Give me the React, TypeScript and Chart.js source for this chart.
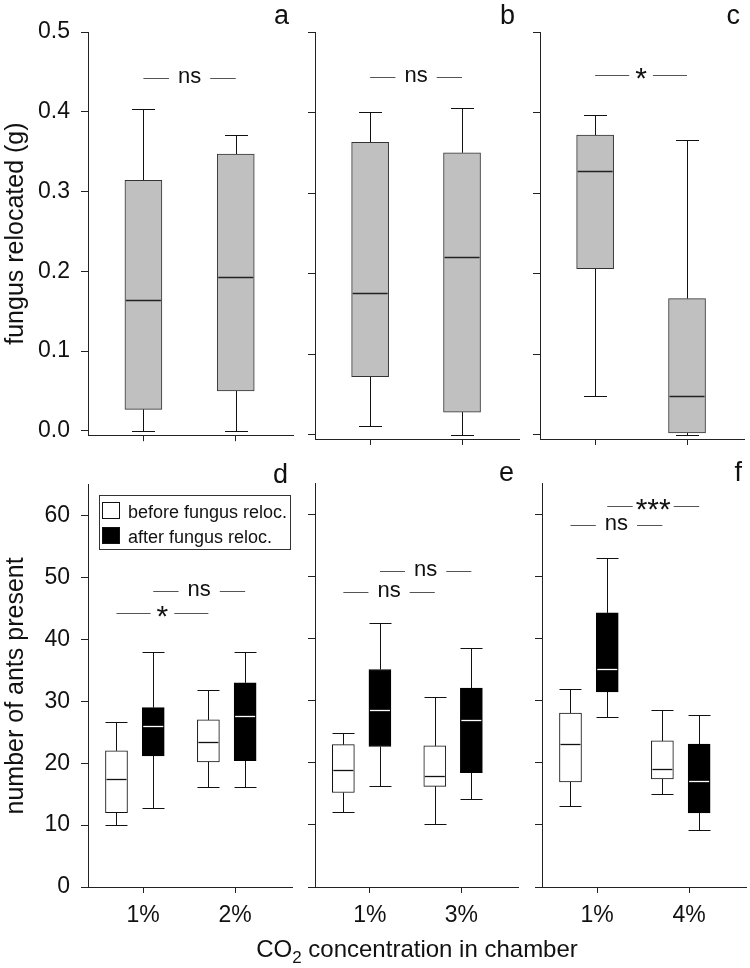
import React, { useEffect, useRef } from 'react';
import { Chart, registerables } from 'chart.js';

Chart.register(...registerables);

const FONT = "'Liberation Sans', Arial, Helvetica, sans-serif";

// ---------------- data ----------------
const catsA = ['1%', '2%'];
const catsB = ['1%', '3%'];
const catsC = ['1%', '4%'];

// fungus relocated (g): [min, q1, median, q3, max] per CO2 level
const fungusA = [
  [0.0, 0.027, 0.164, 0.314, 0.403],
  [0.0, 0.05, 0.193, 0.347, 0.371],
];
const fungusB = [
  [0.011, 0.072, 0.176, 0.363, 0.401],
  [0.0, 0.028, 0.221, 0.35, 0.406],
];
const fungusC = [
  [0.048, 0.206, 0.328, 0.372, 0.397],
  [0.0, 0.002, 0.048, 0.169, 0.366],
];

// number of ants present: [min, q1, median, q3, max]
const antsBeforeD = [
  [10.1, 12.0, 17.5, 22.0, 26.7],
  [16.1, 20.2, 23.4, 27.0, 31.9],
];
const antsAfterD = [
  [12.7, 21.2, 26.0, 29.0, 38.0],
  [16.1, 20.4, 27.7, 33.0, 38.0],
];
const antsBeforeE = [
  [12.1, 15.2, 18.9, 22.9, 24.8],
  [10.2, 16.2, 17.9, 22.7, 30.6],
];
const antsAfterE = [
  [16.3, 22.6, 28.4, 35.0, 42.4],
  [14.1, 18.4, 26.8, 32.0, 38.5],
];
const antsBeforeF = [
  [13.1, 16.9, 23.0, 28.0, 31.8],
  [15.0, 17.4, 19.0, 23.5, 28.4],
];
const antsAfterF = [
  [27.3, 31.4, 35.0, 44.1, 53.0],
  [9.2, 11.9, 17.0, 23.0, 27.7],
];

const fungusTicks = [0, 0.1, 0.2, 0.3, 0.4, 0.5];
const fungusTickLabels = ['0.0', '0.1', '0.2', '0.3', '0.4', '0.5'];
const antsTicks = [0, 10, 20, 30, 40, 50, 60];
const antsTickLabels = ['0', '10', '20', '30', '40', '50', '60'];

// significance brackets: series index joined across the two CO2 levels
const sigA = [{ series: 0, y: 0.442, label: 'ns' }];
const sigB = [{ series: 0, y: 0.444, label: 'ns' }];
const sigC = [{ series: 0, y: 0.447, label: '*' }];
const sigD = [
  { series: 1, y: 47.9, label: 'ns' },
  { series: 0, y: 44.3, label: '*' },
];
const sigE = [
  { series: 1, y: 50.9, label: 'ns' },
  { series: 0, y: 47.45, label: 'ns' },
];
const sigF = [
  { series: 1, y: 61.3, label: '***' },
  { series: 0, y: 58.2, label: 'ns' },
];

const legendLabels = ['before fungus reloc.', 'after fungus reloc.'];
const yTitleTop = 'fungus relocated (g)';
const yTitleBottom = 'number of ants present';

// ---------------- styles / layout ----------------
const GRAY = { fill: '#c0c0c0', border: '#333333', median: '#222222', offset: 0 };
const BEFORE = { fill: '#ffffff', border: '#111111', median: '#111111', offset: -0.29 };
const AFTER = { fill: '#000000', border: '#000000', median: '#ffffff', offset: 0.11 };

type Series = { data: number[][]; fill: string; border: string; median: string; offset: number };
type Panel = {
  letter: string;
  cats: string[];
  series: Series[];
  sig: { series: number; y: number; label: string }[];
  boxPx: number;
  capPx: number;
  yMin: number;
  yMax: number;
  ticks: number[];
  tickLabels: string[];
  showYLabels: boolean;
  showXLabels: boolean;
  yTitle?: string;
  legend: boolean;
  x: number;
  y: number;
  w: number;
  h: number;
  yWidth: number;
  padRight: number;
  padTop: number;
  xHeight: number;
  letterDy: number;
};

const topRow = { y: 0, h: 460, padTop: 32, xHeight: 21, yMin: -0.0054, yMax: 0.5, boxPx: 37, capPx: 23, letterDy: 8 };
const bottomRow = { y: 460, h: 508, padTop: 23, xHeight: 81, yMin: 0, yMax: 65, boxPx: 22, capPx: 22, letterDy: 2 };

const panels: Panel[] = [
  {
    ...topRow, letter: 'a', cats: catsA, series: [{ ...GRAY, data: fungusA }], sig: sigA,
    ticks: fungusTicks, tickLabels: fungusTickLabels, showYLabels: true, showXLabels: false,
    yTitle: yTitleTop, legend: false, x: 0, w: 300, yWidth: 88, padRight: 7,
  },
  {
    ...topRow, letter: 'b', cats: catsB, series: [{ ...GRAY, data: fungusB }], sig: sigB,
    ticks: fungusTicks, tickLabels: fungusTickLabels, showYLabels: false, showXLabels: false,
    legend: false, x: 300, w: 225, yWidth: 15, padRight: 6,
  },
  {
    ...topRow, letter: 'c', cats: catsC, series: [{ ...GRAY, data: fungusC }], sig: sigC,
    ticks: fungusTicks, tickLabels: fungusTickLabels, showYLabels: false, showXLabels: false,
    legend: false, x: 525, w: 225, yWidth: 15, padRight: 6,
  },
  {
    ...bottomRow, letter: 'd', cats: catsA,
    series: [{ ...BEFORE, data: antsBeforeD }, { ...AFTER, data: antsAfterD }], sig: sigD,
    ticks: antsTicks, tickLabels: antsTickLabels, showYLabels: true, showXLabels: true,
    yTitle: yTitleBottom, legend: true, x: 0, w: 300, yWidth: 88, padRight: 8,
  },
  {
    ...bottomRow, letter: 'e', cats: catsB,
    series: [{ ...BEFORE, data: antsBeforeE }, { ...AFTER, data: antsAfterE }], sig: sigE,
    ticks: antsTicks, tickLabels: antsTickLabels, showYLabels: false, showXLabels: true,
    legend: false, x: 300, w: 225, yWidth: 15, padRight: 7,
  },
  {
    ...bottomRow, letter: 'f', cats: catsC,
    series: [{ ...BEFORE, data: antsBeforeF }, { ...AFTER, data: antsAfterF }], sig: sigF,
    ticks: antsTicks, tickLabels: antsTickLabels, showYLabels: false, showXLabels: true,
    legend: false, x: 525, w: 225, yWidth: 17, padRight: 4,
  },
];

function makePlugin(p: Panel) {
  return {
    id: 'boxExtras' + p.letter,
    beforeDatasetsDraw(chart: any) {
      const { ctx } = chart;
      const xs = chart.scales.x;
      const ys = chart.scales.y;
      ctx.save();
      ctx.lineWidth = 1;
      ctx.strokeStyle = '#111';
      p.series.forEach((s) => {
        s.data.forEach((st, i) => {
          const x = Math.round(xs.getPixelForValue(i + s.offset)) + 0.5;
          const yLo = Math.round(ys.getPixelForValue(st[0])) + 0.5;
          const yQ1 = ys.getPixelForValue(st[1]);
          const yQ3 = ys.getPixelForValue(st[3]);
          const yHi = Math.round(ys.getPixelForValue(st[4])) + 0.5;
          const half = p.capPx / 2;
          ctx.beginPath();
          ctx.moveTo(x, yQ1);
          ctx.lineTo(x, yLo);
          ctx.moveTo(x, yQ3);
          ctx.lineTo(x, yHi);
          ctx.moveTo(x - half, yLo);
          ctx.lineTo(x + half, yLo);
          ctx.moveTo(x - half, yHi);
          ctx.lineTo(x + half, yHi);
          ctx.stroke();
        });
      });
      ctx.restore();
    },
    afterDatasetsDraw(chart: any) {
      const { ctx, chartArea } = chart;
      const xs = chart.scales.x;
      const ys = chart.scales.y;
      ctx.save();
      // medians
      ctx.lineWidth = 1.3;
      p.series.forEach((s) => {
        s.data.forEach((st, i) => {
          const x = xs.getPixelForValue(i + s.offset);
          const y = Math.round(ys.getPixelForValue(st[2])) + 0.5;
          ctx.strokeStyle = s.median;
          ctx.beginPath();
          ctx.moveTo(x - p.boxPx / 2 + 1, y);
          ctx.lineTo(x + p.boxPx / 2 - 1, y);
          ctx.stroke();
        });
      });
      // significance brackets
      p.sig.forEach((b) => {
        const off = p.series[b.series].offset;
        const x1 = xs.getPixelForValue(0 + off);
        const x2 = xs.getPixelForValue(1 + off);
        const y = Math.round(ys.getPixelForValue(b.y)) + 0.5;
        const isStar = b.label.indexOf('*') >= 0;
        const size = isStar ? 30 : 22;
        ctx.font = `${size}px ${FONT}`;
        const tw = ctx.measureText(b.label).width;
        const pad = b.label === 'ns' ? 9 : b.label.length === 1 ? 6 : 3;
        const cx = (x1 + x2) / 2;
        ctx.strokeStyle = '#555';
        ctx.lineWidth = 1;
        ctx.beginPath();
        ctx.moveTo(x1, y);
        ctx.lineTo(cx - tw / 2 - pad, y);
        ctx.moveTo(cx + tw / 2 + pad, y);
        ctx.lineTo(x2, y);
        ctx.stroke();
        ctx.fillStyle = '#111';
        ctx.textAlign = 'center';
        ctx.textBaseline = 'alphabetic';
        ctx.fillText(b.label, cx, y + (isStar ? 12 : 4));
      });
      // legend
      if (p.legend) {
        const lx = chartArea.left + 11;
        const ly = chartArea.top + 10;
        ctx.lineWidth = 1;
        ctx.strokeStyle = '#333';
        ctx.strokeRect(Math.round(lx) + 0.5, Math.round(ly) + 0.5, 191, 54);
        const fills = [BEFORE.fill, AFTER.fill];
        legendLabels.forEach((lab, k) => {
          const sy = ly + 7 + k * 25;
          ctx.fillStyle = fills[k];
          ctx.fillRect(Math.round(lx) + 3, Math.round(sy), 18, 17);
          ctx.strokeStyle = '#111';
          ctx.strokeRect(Math.round(lx) + 3.5, Math.round(sy) + 0.5, 17, 16);
          ctx.fillStyle = '#111';
          ctx.font = `18px ${FONT}`;
          ctx.textAlign = 'left';
          ctx.textBaseline = 'alphabetic';
          ctx.fillText(lab, lx + 29, sy + 16);
        });
      }
      // panel letter
      ctx.fillStyle = '#111';
      ctx.font = `27px ${FONT}`;
      ctx.textAlign = 'right';
      ctx.textBaseline = 'alphabetic';
      ctx.fillText(p.letter, chartArea.right - 4, chartArea.top - p.letterDy);
      ctx.restore();
    },
  };
}

function buildConfig(p: Panel): any {
  const datasets = p.series.map((s) => ({
    type: 'bar',
    data: s.data.map((st, i) => ({ x: i + s.offset, y: [st[1], st[3]] })),
    backgroundColor: s.fill,
    borderColor: s.border,
    borderWidth: 1,
    borderSkipped: false,
    grouped: false,
    barThickness: p.boxPx,
  }));
  return {
    type: 'bar',
    data: { datasets },
    options: {
      animation: false,
      responsive: false,
      events: [],
      layout: { padding: { left: 0, right: p.padRight, top: p.padTop, bottom: 0 } },
      plugins: { legend: { display: false }, tooltip: { enabled: false }, title: { display: false } },
      scales: {
        x: {
          type: 'linear',
          offset: false,
          min: -0.6,
          max: 1.62,
          afterBuildTicks: (s: any) => {
            s.ticks = p.cats.map((_, i) => ({ value: i }));
          },
          ticks: {
            display: p.showXLabels,
            callback: (_v: any, i: number) => p.cats[i],
            font: { family: FONT, size: 23 },
            color: '#111',
            padding: 9,
            maxRotation: 0,
            autoSkip: false,
          },
          grid: { display: true, offset: false, drawOnChartArea: false, drawTicks: true, tickLength: 6, color: '#222', lineWidth: 1 },
          border: { display: true, color: '#222', width: 1 },
          afterFit: (s: any) => {
            s.height = p.xHeight;
          },
        },
        y: {
          type: 'linear',
          min: p.yMin,
          max: p.yMax,
          afterBuildTicks: (s: any) => {
            s.ticks = p.ticks.map((v) => ({ value: v }));
          },
          ticks: {
            display: p.showYLabels,
            callback: (_v: any, i: number) => p.tickLabels[i],
            font: { family: FONT, size: 23 },
            color: '#111',
            padding: 11,
            autoSkip: false,
          },
          grid: { display: true, drawOnChartArea: false, drawTicks: true, tickLength: 7, color: '#222', lineWidth: 1 },
          border: { display: true, color: '#222', width: 1 },
          title: {
            display: !!p.yTitle,
            text: p.yTitle || '',
            font: { family: FONT, size: 25 },
            color: '#111',
            padding: { top: 1, bottom: 0 },
          },
          afterFit: (s: any) => {
            s.width = p.yWidth;
          },
        },
      },
    },
    plugins: [makePlugin(p)],
  };
}

function PanelChart({ p }: { p: Panel }) {
  const ref = useRef<HTMLCanvasElement | null>(null);
  useEffect(() => {
    if (!ref.current) return;
    const chart = new Chart(ref.current, buildConfig(p));
    return () => chart.destroy();
  }, [p]);
  return (
    <canvas
      ref={ref}
      width={p.w}
      height={p.h}
      style={{ position: 'absolute', left: p.x, top: p.y, width: p.w, height: p.h }}
    />
  );
}

export default function App() {
  return (
    <div style={{ position: 'absolute', left: 0, top: 0, width: 750, height: 968, background: '#fff' }}>
      {panels.map((p) => (
        <PanelChart key={p.letter} p={p} />
      ))}
      <div
        style={{
          position: 'absolute',
          left: 88,
          width: 658,
          top: 935,
          textAlign: 'center',
          fontFamily: FONT,
          fontSize: 24,
          lineHeight: '28px',
          color: '#111',
          whiteSpace: 'nowrap',
        }}
      >
        CO<sub style={{ fontSize: 17, verticalAlign: 'baseline', position: 'relative', top: 6 }}>2</sub> concentration in chamber
      </div>
    </div>
  );
}
